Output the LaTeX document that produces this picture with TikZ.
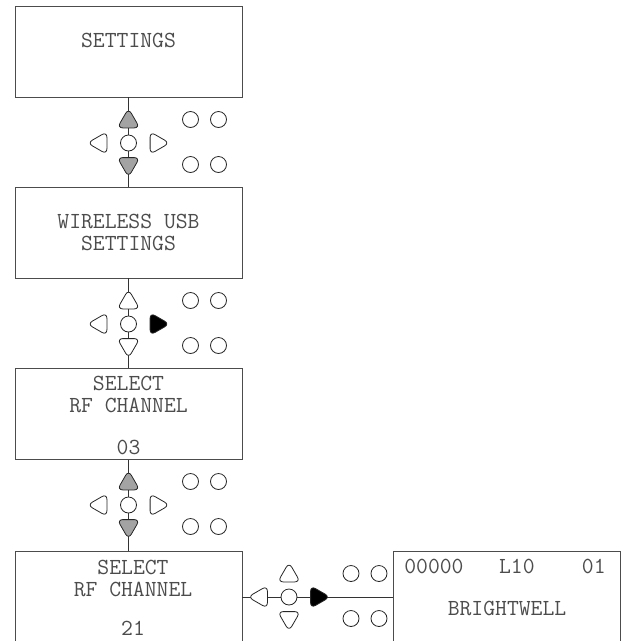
\documentclass[tikz,border=0pt]{standalone}
\usepackage{fontspec}
\usetikzlibrary{shapes.geometric}
\definecolor{kgray}{gray}{0.64}
\tikzset{
  disp/.style={draw=black!70, line width=0.8pt, minimum width=227pt, minimum height=91pt, inner sep=0pt},
  dtext/.style={font=\ttfamily\fontsize{23}{26}\selectfont, text=black!70, inner sep=0pt},
  keybtn/.style={circle, draw=black!85, line width=0.8pt, fill=white, minimum size=16pt, inner sep=0pt},
  arrbtn/.style={regular polygon, regular polygon sides=3, draw=black!85, line width=0.8pt, fill=white, minimum size=26pt, inner sep=0pt, rounded corners=5.5pt},
  conn/.style={draw=black!80, line width=0.8pt}
}
% #1 name, #2 x, #3 y, #4 up fill, #5 down fill, #6 right fill
\newcommand\mykeypad[6]{%
  \node[keybtn] (#1c) at (#2,#3) {};
  \node[arrbtn, fill=#4] (#1u) at (#2,#3-21.6) {};
  \node[arrbtn, fill=#5, rotate=180] (#1d) at (#2,#3+21.1) {};
  \node[arrbtn, fill=white, rotate=90] (#1l) at (#2-28.1,#3) {};
  \node[arrbtn, fill=#6, rotate=-90] (#1r) at (#2+28.1,#3) {};
  \node[keybtn] (#1b1) at (#2+62,#3-23.5) {};
  \node[keybtn] (#1b2) at (#2+90,#3-23.5) {};
  \node[keybtn] (#1b3) at (#2+62,#3+21.5) {};
  \node[keybtn] (#1b4) at (#2+90,#3+21.5) {};
}
\begin{document}
\begin{tikzpicture}[x=1pt,y=-1pt]
\useasboundingbox (0,0) rectangle (628,641);
% display boxes
\node[disp] (box1) at (128.5,51.5) {};
\node[disp] (box2) at (128.5,232.5) {};
\node[disp] (box3) at (128.5,414) {};
\node[disp] (box4) at (128.5,597) {};
\node[disp] (box5) at (507,597) {};
% texts
\node[dtext] (t1) at (128.5,40) {SETTINGS};
\node[dtext] (t2a) at (128.5,221) {WIRELESS USB};
\node[dtext] (t2b) at (128.5,243) {SETTINGS};
\node[dtext] (t3a) at (128.5,383) {SELECT};
\node[dtext] (t3b) at (128.5,405) {RF CHANNEL};
\node[dtext] (t3c) at (128.5,447) {03};
\node[dtext] (t4a) at (133,567) {SELECT};
\node[dtext] (t4b) at (133,589) {RF CHANNEL};
\node[dtext] (t4c) at (133,628) {21};
\node[dtext] (t5a) at (505,566) {00000\ \ \ L10\ \ \ \ 01};
\node[dtext] (t5b) at (507,608) {BRIGHTWELL};
% connectors
\draw[conn] (box1.south) -- (box2.north);
\draw[conn] (box2.south) -- (box3.north);
\draw[conn] (box3.south) -- (box4.north);
\draw[conn] (box4.east) -- (box5.west);
% keypads
\mykeypad{ka}{128.5}{143}{kgray}{kgray}{white}
\mykeypad{kb}{128.5}{324}{white}{white}{black}
\mykeypad{kc}{128.5}{505}{kgray}{kgray}{white}
\mykeypad{kd}{289}{597}{white}{white}{black}
\end{tikzpicture}
\end{document}
